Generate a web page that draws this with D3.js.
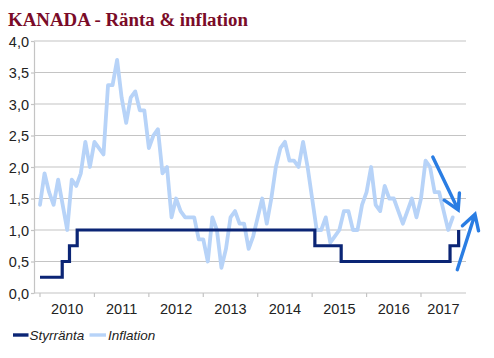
<!DOCTYPE html>
<html><head><meta charset="utf-8">
<script src="https://cdn.jsdelivr.net/npm/d3@7"></script>
<style>
html,body{margin:0;padding:0;background:#fff;}
svg{display:block;}
</style></head>
<body>
<svg id="chart" width="494" height="358"></svg>
<script>
// ---- data ----
const title = "KANADA - Ränta & inflation";
const years = ["2010","2011","2012","2013","2014","2015","2016","2017"];
const yTicks = [0,0.5,1,1.5,2,2.5,3,3.5,4];
// monthly inflation, first point = Dec 2009 (month index 0)
const inflation = [1.4,1.9,1.6,1.4,1.8,1.4,1.0,1.8,1.7,1.9,2.4,2.0,
  2.4,2.3,2.2,3.3,3.3,3.7,3.1,2.7,3.1,3.2,2.9,2.9,
  2.3,2.5,2.6,1.9,2.0,1.2,1.5,1.3,1.2,1.2,1.2,0.85,
  0.85,0.5,1.2,1.0,0.4,0.7,1.2,1.3,1.1,1.1,0.7,0.9,
  1.2,1.5,1.1,1.5,2.0,2.3,2.4,2.1,2.1,2.0,2.4,2.0,
  1.5,1.0,1.0,1.2,0.8,0.9,1.0,1.3,1.3,1.0,1.0,1.4,
  1.6,2.0,1.4,1.3,1.7,1.5,1.5,1.3,1.1,1.3,1.5,1.2,
  1.5,2.1,2.0,1.6,1.6,1.3,1.0,1.2];
// policy rate steps: month index where each level starts, and level
const rateStart = [0, 4.9, 6.5, 8.2, 60.6, 66.4, 90.4, 92.3];
const rateValue = [0.25, 0.5, 0.75, 1.0, 0.75, 0.5, 0.75, 1.0];
// annotation arrows [fromMonth, fromValue, toMonth, toValue]
const arrows = [[86.6, 2.16, 92.2, 1.32],[92.0, 0.37, 95.9, 1.25]];
const legendLabels = ["Styrränta","Inflation"];

// ---- layout ----
const plotLeft = 34, plotRight = 466, plotTop = 41, plotBottom = 293;
const colRate = "#0b2575", colInfl = "#b7d3f8", colArrow = "#2a7de3", colGrid = "#c4c4c4";
const svg = d3.select("#chart");
svg.append("rect").attr("width",494).attr("height",358).attr("fill","#fff");

const x = d3.scaleLinear().domain([0, 84]).range([40, 421]);
const y = d3.scaleLinear().domain([0, 4]).range([plotBottom, plotTop]);

// title
svg.append("text").attr("x",8).attr("y",26)
  .attr("font-family","'Liberation Serif','DejaVu Serif',serif")
  .attr("font-weight","bold").attr("font-size",18.5).attr("fill","#7a0b28")
  .attr("textLength",240).attr("lengthAdjust","spacingAndGlyphs")
  .text(title);

// gridlines
svg.append("g").selectAll("line").data(yTicks.filter(d=>d>0)).join("line")
  .attr("x1",plotLeft).attr("x2",plotRight)
  .attr("y1",d=>y(d)).attr("y2",d=>y(d))
  .attr("stroke",colGrid).attr("stroke-width",1.2);

// y axis
const yAxis = svg.append("g").attr("transform",`translate(${plotLeft},0)`)
  .call(d3.axisLeft(y).tickValues(yTicks).tickSize(3).tickSizeOuter(0)
    .tickFormat(d=>d3.format(".1f")(d).replace(".",",")));
yAxis.select(".domain").attr("stroke",colGrid).attr("stroke-width",1.2);
yAxis.selectAll(".tick line").attr("stroke",colGrid).attr("stroke-width",1.2);
yAxis.selectAll(".tick text").attr("x",-5).attr("dy","0.36em")
  .attr("font-family","'Liberation Sans',Arial,sans-serif").attr("font-size",14.5).attr("fill","#222");

// x axis
svg.append("line").attr("x1",plotLeft).attr("x2",plotRight)
  .attr("y1",plotBottom).attr("y2",plotBottom).attr("stroke",colGrid).attr("stroke-width",1.2);
const tickIdx = years.map((d,i)=>i*12);
svg.append("g").selectAll("line").data(tickIdx).join("line")
  .attr("x1",d=>x(d)).attr("x2",d=>x(d)).attr("y1",plotBottom).attr("y2",plotBottom+4)
  .attr("stroke",colGrid).attr("stroke-width",1.2);
svg.append("g").selectAll("text").data(years).join("text")
  .attr("x",(d,i)=>(x(i*12)+Math.min(x((i+1)*12),plotRight))/2)
  .attr("y",314).attr("text-anchor","middle")
  .attr("font-family","'Liberation Sans',Arial,sans-serif").attr("font-size",14.5).attr("fill","#222")
  .text(d=>d);

// inflation line
svg.append("path").datum(inflation)
  .attr("d",d3.line().x((d,i)=>x(i)).y(d=>y(d)))
  .attr("fill","none").attr("stroke",colInfl).attr("stroke-width",3.8)
  .attr("stroke-linejoin","round").attr("stroke-linecap","round");

// policy rate line
svg.append("path").datum(rateStart.map((s,i)=>[s,rateValue[i]]))
  .attr("d",d3.line().x(d=>x(d[0])).y(d=>y(d[1])).curve(d3.curveStepAfter))
  .attr("fill","none").attr("stroke",colRate).attr("stroke-width",3.2)
  .attr("stroke-linejoin","miter").attr("stroke-linecap","butt");

// arrows
const ag = svg.append("g");
arrows.forEach(a=>{
  const x0=x(a[0]), y0=y(a[1]), x1=x(a[2]), y1=y(a[3]);
  const ang = Math.atan2(y1-y0, x1-x0), L = 17, sp = 0.52;
  const h1 = [x1 - L*Math.cos(ang-sp), y1 - L*Math.sin(ang-sp)];
  const h2 = [x1 - L*Math.cos(ang+sp), y1 - L*Math.sin(ang+sp)];
  ag.append("path").attr("d",`M${x0},${y0}L${x1},${y1}M${h1[0]},${h1[1]}L${x1},${y1}L${h2[0]},${h2[1]}`)
    .attr("fill","none").attr("stroke",colArrow).attr("stroke-width",3.4)
    .attr("stroke-linejoin","miter").attr("stroke-linecap","round");
});

// legend
const lg = svg.append("g").attr("font-family","'Liberation Sans',Arial,sans-serif")
  .attr("font-style","italic").attr("font-size",13.5).attr("fill","#222");
lg.append("line").attr("x1",13).attr("x2",28.5).attr("y1",335).attr("y2",335)
  .attr("stroke",colRate).attr("stroke-width",3.4);
lg.append("text").attr("x",29.5).attr("y",340).text(legendLabels[0]);
lg.append("line").attr("x1",89.5).attr("x2",106).attr("y1",335).attr("y2",335)
  .attr("stroke",colInfl).attr("stroke-width",3.4);
lg.append("text").attr("x",108).attr("y",340).text(legendLabels[1]);
</script>
</body></html>
